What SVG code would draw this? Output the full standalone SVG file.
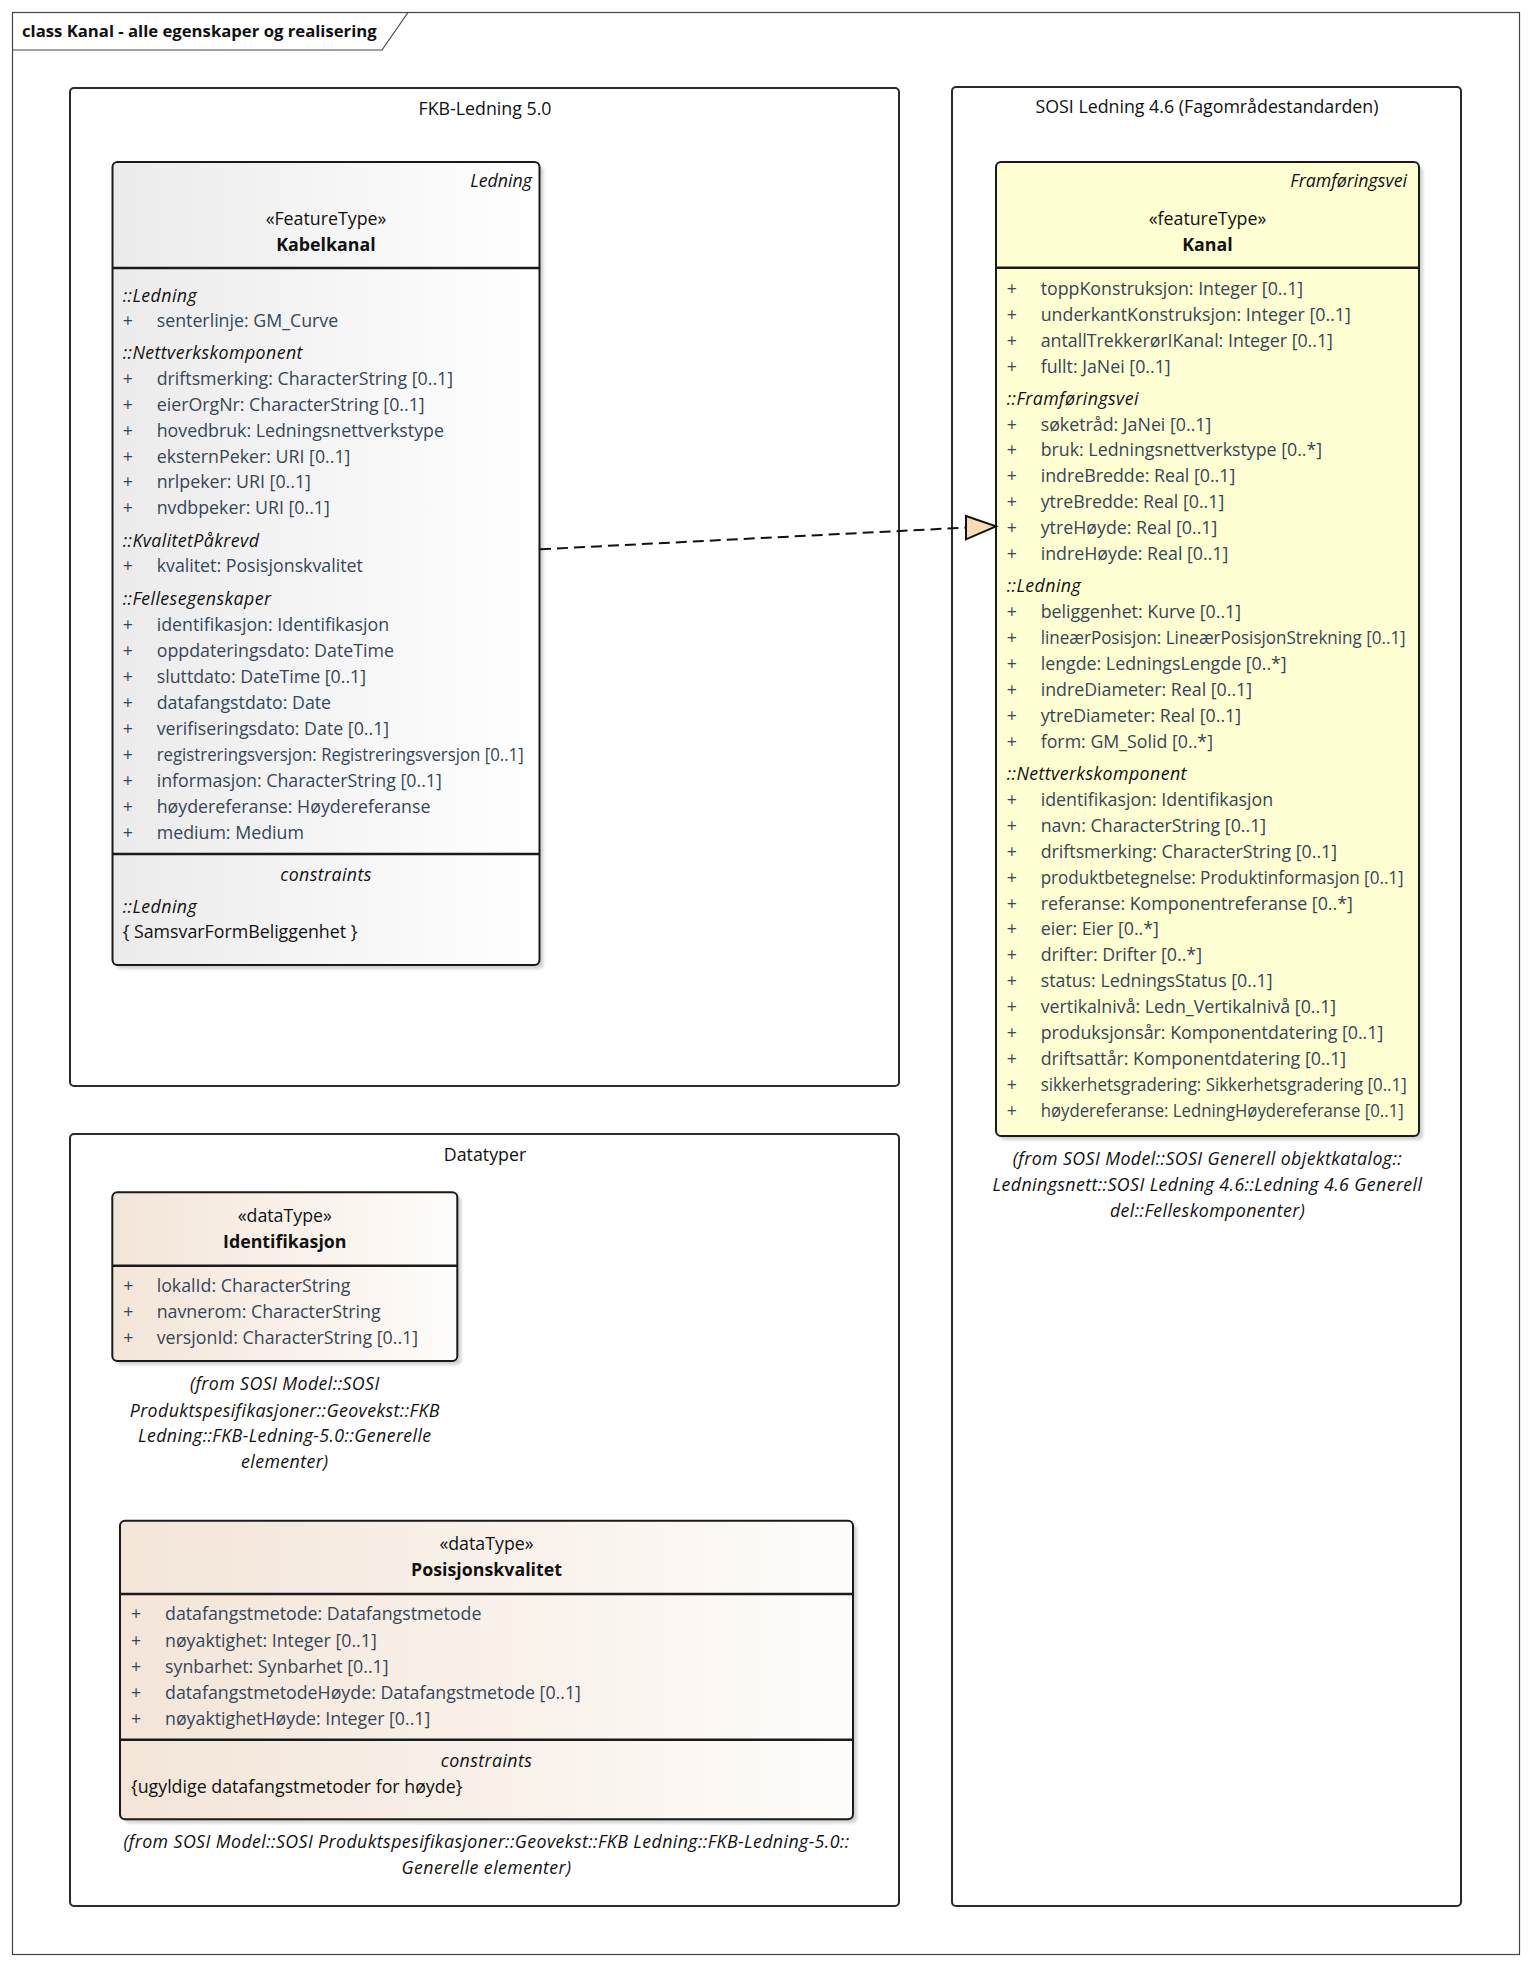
<svg xmlns="http://www.w3.org/2000/svg" width="1532" height="1968" viewBox="0 0 1532 1968">
<style>
text{font-family:"Open Sans","Noto Sans",sans-serif;font-size:17.8px;fill:#111}
.a{fill:#374656}
.i{font-style:italic;letter-spacing:.4px}
.n{letter-spacing:0}
.b{font-weight:bold}
.c{text-anchor:middle}
.r{text-anchor:end}
.pkg{fill:none;stroke:#2a2a2a;stroke-width:2}
.cls{stroke:#1a1a1a;stroke-width:2}
.sh{fill:#9a9a9a;opacity:.45;filter:url(#blur)}
.sep{stroke:#1a1a1a;stroke-width:2.5}
</style>
<defs>
<linearGradient id="gGray" x1="0" y1="0" x2="1" y2="0"><stop offset="0" stop-color="#ebebeb"/><stop offset="1" stop-color="#ffffff"/></linearGradient>
<linearGradient id="gBeige" x1="0" y1="0" x2="1" y2="0"><stop offset="0" stop-color="#f3e5d8"/><stop offset="1" stop-color="#fefcfa"/></linearGradient>
<filter id="blur" x="-5%" y="-5%" width="110%" height="110%"><feGaussianBlur stdDeviation="1.5"/></filter>
</defs>
<rect width="1532" height="1968" fill="#fff"/>
<g id="frame">
<rect x="12.5" y="12.5" width="1507" height="1942" fill="none" stroke="#444" stroke-width="1.2"/>
<path d="M12.5,50 H382 L408,12.5" fill="none" stroke="#444" stroke-width="1.2"/>
<text x="22" y="37" class="b" style="font-size:16.7px">class Kanal - alle egenskaper og realisering</text>
</g>
<g id="pkg-fkb">
<rect x="70" y="88" width="829" height="998" rx="4" class="pkg"/>
<text x="485" y="115" class="c">FKB-Ledning 5.0</text>
</g>
<g id="pkg-sosi">
<rect x="952" y="87" width="509" height="1819" rx="4" class="pkg"/>
<text x="1207" y="113" class="c">SOSI Ledning 4.6 (Fagområdestandarden)</text>
</g>
<g id="pkg-datatyper">
<rect x="70" y="1134" width="829" height="772" rx="4" class="pkg"/>
<text x="485" y="1161" class="c">Datatyper</text>
</g>
<g id="Kabelkanal">
<rect x="116.5" y="166" width="427" height="803" rx="5" class="sh"/>
<rect x="112.5" y="162" width="427" height="803" rx="5" fill="url(#gGray)" class="cls"/>
<line x1="112.5" y1="268" x2="539.5" y2="268" class="sep"/>
<line x1="112.5" y1="854" x2="539.5" y2="854" class="sep"/>
<text x="532" y="187" class="i r n">Ledning</text>
<text x="326" y="225" class="c">«FeatureType»</text>
<text x="326" y="251" class="c b">Kabelkanal</text>
<text x="122.7" y="301.7" class="i">::Ledning</text>
<text x="122.7" y="326.7" class="a">+</text><text x="156.7" y="326.7" class="a">senterlinje: GM_Curve</text>
<text x="122.7" y="359" class="i">::Nettverkskomponent</text>
<text x="122.7" y="385" class="a">+</text><text x="156.7" y="385" class="a">driftsmerking: CharacterString [0..1]</text>
<text x="122.7" y="410.7" class="a">+</text><text x="156.7" y="410.7" class="a">eierOrgNr: CharacterString [0..1]</text>
<text x="122.7" y="436.7" class="a">+</text><text x="156.7" y="436.7" class="a">hovedbruk: Ledningsnettverkstype</text>
<text x="122.7" y="462.7" class="a">+</text><text x="156.7" y="462.7" class="a">eksternPeker: URI [0..1]</text>
<text x="122.7" y="488.3" class="a">+</text><text x="156.7" y="488.3" class="a">nrlpeker: URI [0..1]</text>
<text x="122.7" y="514.3" class="a">+</text><text x="156.7" y="514.3" class="a">nvdbpeker: URI [0..1]</text>
<text x="122.7" y="546.7" class="i">::KvalitetPåkrevd</text>
<text x="122.7" y="571.7" class="a">+</text><text x="156.7" y="571.7" class="a">kvalitet: Posisjonskvalitet</text>
<text x="122.7" y="605" class="i">::Fellesegenskaper</text>
<text x="122.7" y="630.7" class="a">+</text><text x="156.7" y="630.7" class="a">identifikasjon: Identifikasjon</text>
<text x="122.7" y="656.7" class="a">+</text><text x="156.7" y="656.7" class="a">oppdateringsdato: DateTime</text>
<text x="122.7" y="682.7" class="a">+</text><text x="156.7" y="682.7" class="a">sluttdato: DateTime [0..1]</text>
<text x="122.7" y="708.7" class="a">+</text><text x="156.7" y="708.7" class="a">datafangstdato: Date</text>
<text x="122.7" y="734.7" class="a">+</text><text x="156.7" y="734.7" class="a">verifiseringsdato: Date [0..1]</text>
<text x="122.7" y="760.7" class="a">+</text><text x="156.7" y="760.7" class="a" textLength="367" lengthAdjust="spacingAndGlyphs">registreringsversjon: Registreringsversjon [0..1]</text>
<text x="122.7" y="786.7" class="a">+</text><text x="156.7" y="786.7" class="a">informasjon: CharacterString [0..1]</text>
<text x="122.7" y="812.7" class="a">+</text><text x="156.7" y="812.7" class="a">høydereferanse: Høydereferanse</text>
<text x="122.7" y="838.7" class="a">+</text><text x="156.7" y="838.7" class="a">medium: Medium</text>
<text x="326" y="880.7" class="c i">constraints</text>
<text x="122.7" y="912.7" class="i">::Ledning</text>
<text x="122.7" y="938.3">{ SamsvarFormBeliggenhet }</text>
</g>
<g id="Kanal">
<rect x="1000" y="166" width="423" height="974" rx="5" class="sh"/>
<rect x="996" y="162" width="423" height="974" rx="5" fill="#fefed3" class="cls"/>
<line x1="996" y1="267.7" x2="1419" y2="267.7" class="sep"/>
<text x="1407" y="186.7" class="i r n">Framføringsvei</text>
<text x="1207.5" y="225" class="c">«featureType»</text>
<text x="1207.5" y="250.7" class="c b">Kanal</text>
<text x="1006.7" y="295" class="a">+</text><text x="1040.7" y="295" class="a">toppKonstruksjon: Integer [0..1]</text>
<text x="1006.7" y="320.8" class="a">+</text><text x="1040.7" y="320.8" class="a">underkantKonstruksjon: Integer [0..1]</text>
<text x="1006.7" y="346.7" class="a">+</text><text x="1040.7" y="346.7" class="a">antallTrekkerørIKanal: Integer [0..1]</text>
<text x="1006.7" y="372.5" class="a">+</text><text x="1040.7" y="372.5" class="a">fullt: JaNei [0..1]</text>
<text x="1006.7" y="404.5" class="i">::Framføringsvei</text>
<text x="1006.7" y="430.5" class="a">+</text><text x="1040.7" y="430.5" class="a">søketråd: JaNei [0..1]</text>
<text x="1006.7" y="456.4" class="a">+</text><text x="1040.7" y="456.4" class="a">bruk: Ledningsnettverkstype [0..*]</text>
<text x="1006.7" y="482.3" class="a">+</text><text x="1040.7" y="482.3" class="a">indreBredde: Real [0..1]</text>
<text x="1006.7" y="508.2" class="a">+</text><text x="1040.7" y="508.2" class="a">ytreBredde: Real [0..1]</text>
<text x="1006.7" y="534.1" class="a">+</text><text x="1040.7" y="534.1" class="a">ytreHøyde: Real [0..1]</text>
<text x="1006.7" y="560" class="a">+</text><text x="1040.7" y="560" class="a">indreHøyde: Real [0..1]</text>
<text x="1006.7" y="592.3" class="i">::Ledning</text>
<text x="1006.7" y="618.2" class="a">+</text><text x="1040.7" y="618.2" class="a">beliggenhet: Kurve [0..1]</text>
<text x="1006.7" y="644.1" class="a">+</text><text x="1040.7" y="644.1" class="a" textLength="365" lengthAdjust="spacingAndGlyphs">lineærPosisjon: LineærPosisjonStrekning [0..1]</text>
<text x="1006.7" y="670" class="a">+</text><text x="1040.7" y="670" class="a">lengde: LedningsLengde [0..*]</text>
<text x="1006.7" y="695.9" class="a">+</text><text x="1040.7" y="695.9" class="a">indreDiameter: Real [0..1]</text>
<text x="1006.7" y="721.8" class="a">+</text><text x="1040.7" y="721.8" class="a">ytreDiameter: Real [0..1]</text>
<text x="1006.7" y="747.7" class="a">+</text><text x="1040.7" y="747.7" class="a">form: GM_Solid [0..*]</text>
<text x="1006.7" y="780" class="i">::Nettverkskomponent</text>
<text x="1006.7" y="805.9" class="a">+</text><text x="1040.7" y="805.9" class="a">identifikasjon: Identifikasjon</text>
<text x="1006.7" y="831.8" class="a">+</text><text x="1040.7" y="831.8" class="a">navn: CharacterString [0..1]</text>
<text x="1006.7" y="857.7" class="a">+</text><text x="1040.7" y="857.7" class="a">driftsmerking: CharacterString [0..1]</text>
<text x="1006.7" y="883.6" class="a">+</text><text x="1040.7" y="883.6" class="a" textLength="363" lengthAdjust="spacingAndGlyphs">produktbetegnelse: Produktinformasjon [0..1]</text>
<text x="1006.7" y="909.5" class="a">+</text><text x="1040.7" y="909.5" class="a">referanse: Komponentreferanse [0..*]</text>
<text x="1006.7" y="935.4" class="a">+</text><text x="1040.7" y="935.4" class="a">eier: Eier [0..*]</text>
<text x="1006.7" y="961.3" class="a">+</text><text x="1040.7" y="961.3" class="a">drifter: Drifter [0..*]</text>
<text x="1006.7" y="987.2" class="a">+</text><text x="1040.7" y="987.2" class="a">status: LedningsStatus [0..1]</text>
<text x="1006.7" y="1013.1" class="a">+</text><text x="1040.7" y="1013.1" class="a">vertikalnivå: Ledn_Vertikalnivå [0..1]</text>
<text x="1006.7" y="1039" class="a">+</text><text x="1040.7" y="1039" class="a">produksjonsår: Komponentdatering [0..1]</text>
<text x="1006.7" y="1064.9" class="a">+</text><text x="1040.7" y="1064.9" class="a">driftsattår: Komponentdatering [0..1]</text>
<text x="1006.7" y="1090.8" class="a">+</text><text x="1040.7" y="1090.8" class="a" textLength="366" lengthAdjust="spacingAndGlyphs">sikkerhetsgradering: Sikkerhetsgradering [0..1]</text>
<text x="1006.7" y="1116.7" class="a">+</text><text x="1040.7" y="1116.7" class="a" textLength="363" lengthAdjust="spacingAndGlyphs">høydereferanse: LedningHøydereferanse [0..1]</text>
<text x="1207.5" y="1165" class="c i">(from SOSI Model::SOSI Generell objektkatalog::</text>
<text x="1207.5" y="1191" class="c i">Ledningsnett::SOSI Ledning 4.6::Ledning 4.6 Generell</text>
<text x="1207.5" y="1216.7" class="c i">del::Felleskomponenter)</text>
</g>
<g id="Identifikasjon">
<rect x="116.3" y="1196.3" width="345" height="168.7" rx="5" class="sh"/>
<rect x="112.3" y="1192.3" width="345" height="168.7" rx="5" fill="url(#gBeige)" class="cls"/>
<line x1="112.3" y1="1265.7" x2="457.3" y2="1265.7" class="sep"/>
<text x="284.8" y="1221.7" class="c">«dataType»</text>
<text x="284.8" y="1248.3" class="c b">Identifikasjon</text>
<text x="123.3" y="1292.3" class="a">+</text><text x="156.7" y="1292.3" class="a">lokalId: CharacterString</text>
<text x="123.3" y="1318.3" class="a">+</text><text x="156.7" y="1318.3" class="a">navnerom: CharacterString</text>
<text x="123.3" y="1344" class="a">+</text><text x="156.7" y="1344" class="a">versjonId: CharacterString [0..1]</text>
<text x="284.8" y="1390" class="c i">(from SOSI Model::SOSI</text>
<text x="284.8" y="1416.7" class="c i">Produktspesifikasjoner::Geovekst::FKB</text>
<text x="284.8" y="1442.3" class="c i">Ledning::FKB-Ledning-5.0::Generelle</text>
<text x="284.8" y="1468.3" class="c i">elementer)</text>
</g>
<g id="Posisjonskvalitet">
<rect x="124" y="1524.7" width="733" height="298.6" rx="5" class="sh"/>
<rect x="120" y="1520.7" width="733" height="298.6" rx="5" fill="url(#gBeige)" class="cls"/>
<line x1="120" y1="1594" x2="853" y2="1594" class="sep"/>
<line x1="120" y1="1739.7" x2="853" y2="1739.7" class="sep"/>
<text x="486.5" y="1550" class="c">«dataType»</text>
<text x="486.5" y="1576" class="c b">Posisjonskvalitet</text>
<text x="131" y="1620" class="a">+</text><text x="165" y="1620" class="a">datafangstmetode: Datafangstmetode</text>
<text x="131" y="1646.7" class="a">+</text><text x="165" y="1646.7" class="a">nøyaktighet: Integer [0..1]</text>
<text x="131" y="1672.7" class="a">+</text><text x="165" y="1672.7" class="a">synbarhet: Synbarhet [0..1]</text>
<text x="131" y="1698.7" class="a">+</text><text x="165" y="1698.7" class="a">datafangstmetodeHøyde: Datafangstmetode [0..1]</text>
<text x="131" y="1724.7" class="a">+</text><text x="165" y="1724.7" class="a">nøyaktighetHøyde: Integer [0..1]</text>
<text x="486.5" y="1766.7" class="c i">constraints</text>
<text x="131" y="1792.7">{ugyldige datafangstmetoder for høyde}</text>
<text x="486.5" y="1848.3" class="c i">(from SOSI Model::SOSI Produktspesifikasjoner::Geovekst::FKB Ledning::FKB-Ledning-5.0::</text>
<text x="486.5" y="1874" class="c i">Generelle elementer)</text>
</g>
<g id="connectors">
<path d="M540,549.3 L966,527.6" fill="none" stroke="#111" stroke-width="2" stroke-dasharray="11,6"/>
<polygon points="966,516 996,526.3 966,539.3" fill="#f8dcb4" stroke="#111" stroke-width="2" stroke-linejoin="miter"/>
</g>
</svg>
